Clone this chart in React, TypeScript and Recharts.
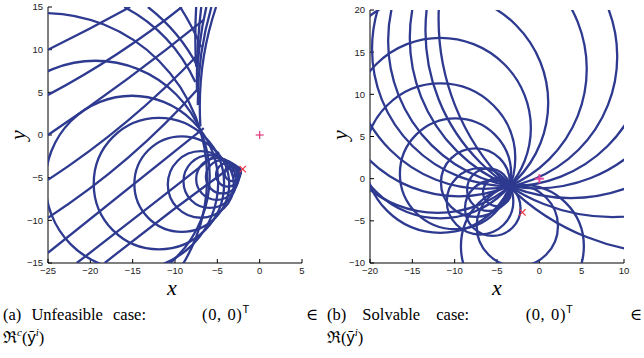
import React from 'react';
import { ScatterChart, Scatter, XAxis, YAxis } from 'recharts';

const LINE = '#2e3a90';

// (a) nested closed circles near the cusp: centre x, centre y, radius
const loopAX = [-2.75, -3.2, -3.75, -4.4, -5.05, -5.9, -6.95, -9.2, -11.9, -15.1, -19.4, -25.5];
const loopAY = [-4.3, -4.45, -4.65, -4.9, -5.15, -5.45, -5.8, -5.75, -5.7, -5.6, -4.8, -5.0];
const loopAR = [0.55, 0.95, 1.4, 1.95, 2.45, 3.1, 3.9, 5.6, 7.7, 10.2, 13.5, 19.3];

// (a) open arcs: start point, a point on the way, end point
const arcAStart = [[-25, 10.0], [-25, 4.7], [-25, 0.0], [-25, -5.25], [-25, -9.7], [-25, -13.8], [-21.6, -15], [-18.3, -15], [-13.2, 15], [-9.4, 15], [-7.4, 6.0], [-7.3, 3.5], [-7.0, 1.0], [-16.0, 15], [-7.5, 8.0], [-7.4, 5.0]];
const arcAMid = [[-20, 12.5], [-17.6, 9.0], [-13.7, 8.0], [-13, 3.9], [-13, -0.4], [-13, -4.3], [-12, -7.6], [-10, -8.6], [-10.2, 12.2], [-8.0, 12.6], [-7.1, 10.5], [-6.9, 9.5], [-6.7, 8.5], [-12.0, 12.2], [-7.6, 11.5], [-7.3, 10.5]];
const arcAEnd = [[-15.3, 15], [-9.2, 15], [-6.6, 13.5], [-7.2, 9.5], [-7.2, 5.5], [-6.6, 0.8], [-4.8, -2.0], [-3.2, -3.6], [-7.3, 8.0], [-6.9, 10.3], [-6.3, 15], [-5.7, 15], [-5.15, 15], [-7.6, 6.2], [-7.5, 15], [-6.9, 15]];

// (b) circles through the common point: centre x, centre y, radius
const circBX = [15.9, 8.65, 3.7, -0.36, -3.46, -6.5, -9.5, -12.0, -11.7, -11.7, -9.9, -7.55, -6.0, -5.0, -7.0, -5.5, -2.0, -2.6];
const circBY = [18.9, 17.55, 16.7, 16.35, 15.4, 14.5, 13.0, 9.0, 6.0, 2.44, 0.58, -0.47, -1.3, -1.6, -2.69, -3.5, -8.0, -5.63];
const circBR = [27.8, 22.1, 19.0, 17.5, 16.3, 15.7, 15.1, 13.05, 10.7, 8.86, 6.57, 4.07, 2.53, 1.65, 3.93, 3.28, 7.26, 4.8];

const xTicksA = [-25, -20, -15, -10, -5, 0, 5];
const yTicksA = [-15, -10, -5, 0, 5, 10, 15];
const xTicksB = [-20, -15, -10, -5, 0, 5, 10];
const yTicksB = [-10, -5, 0, 5, 10, 15, 20];

const origin = [{ x: 0, y: 0 }];
const target = [{ x: -2, y: -4 }];

type Pt = { x: number; y: number };
const getPts = (p: any): Pt[] => (p.points || []).map((q: any) => ({ x: q.x ?? q.cx, y: q.y ?? q.cy }));

const Empty = () => <g />;

function LoopLine(p: any) {
  const [c, a, b] = getPts(p);
  if (!c || !a || !b) return <g />;
  return (
    <ellipse cx={c.x} cy={c.y} rx={Math.abs(a.x - c.x)} ry={Math.abs(c.y - b.y)}
      fill="none" stroke={LINE} strokeWidth={2.3} />
  );
}

// circular arc from the first point, through the second, to the third
function ArcLine(p: any) {
  const [a, m, b] = getPts(p);
  if (!a || !m || !b) return <g />;
  const d = 2 * (a.x * (m.y - b.y) + m.x * (b.y - a.y) + b.x * (a.y - m.y));
  if (Math.abs(d) < 1e-6) {
    return <path d={`M${a.x},${a.y}L${b.x},${b.y}`} fill="none" stroke={LINE} strokeWidth={2.3} />;
  }
  const a2 = a.x * a.x + a.y * a.y;
  const m2 = m.x * m.x + m.y * m.y;
  const b2 = b.x * b.x + b.y * b.y;
  const ux = (a2 * (m.y - b.y) + m2 * (b.y - a.y) + b2 * (a.y - m.y)) / d;
  const uy = (a2 * (b.x - m.x) + m2 * (a.x - b.x) + b2 * (m.x - a.x)) / d;
  const r = Math.hypot(a.x - ux, a.y - uy);
  const tau = Math.PI * 2;
  const ang = (q: Pt) => Math.atan2(q.y - uy, q.x - ux);
  const norm = (v: number) => ((v % tau) + tau) % tau;
  const dm = norm(ang(m) - ang(a));
  const db = norm(ang(b) - ang(a));
  const sweep = dm < db ? 1 : 0;
  const span = sweep ? db : tau - db;
  const large = span > Math.PI ? 1 : 0;
  return (
    <path d={`M${a.x},${a.y}A${r},${r} 0 ${large} ${sweep} ${b.x},${b.y}`}
      fill="none" stroke={LINE} strokeWidth={2.3} />
  );
}

const plusMark = (color: string, w: number, s: number) => (p: any) => {
  const { cx, cy } = p;
  return (
    <g stroke={color} strokeWidth={w}>
      <line x1={cx - s} y1={cy} x2={cx + s} y2={cy} />
      <line x1={cx} y1={cy - s} x2={cx} y2={cy + s} />
    </g>
  );
};

function CrossMark(p: any) {
  const { cx, cy } = p;
  return (
    <g stroke="#ea3040" strokeWidth={1.2}>
      <line x1={cx - 3.2} y1={cy - 3.2} x2={cx + 3.2} y2={cy + 3.2} />
      <line x1={cx - 3.2} y1={cy + 3.2} x2={cx + 3.2} y2={cy - 3.2} />
    </g>
  );
}

const minus = (v: number) => String(v).replace('-', '\u2212');
const tickStyle = { fontSize: 9.5, fontFamily: '"Liberation Sans", Arial, sans-serif', fill: '#222' };

function Panel({ xDomain, yDomain, xTicks, yTicks, top, children }: any) {
  return (
    <ScatterChart width={322} height={300} margin={{ top, right: 20, bottom: 17, left: 18 }}>
      <XAxis type="number" dataKey="x" domain={xDomain} ticks={xTicks} allowDataOverflow
        height={20} tickSize={-4} tickMargin={8} tick={tickStyle} tickFormatter={minus}
        axisLine={{ stroke: '#000' }} tickLine={{ stroke: '#000' }} interval={0} />
      <YAxis type="number" dataKey="y" domain={yDomain} ticks={yTicks} allowDataOverflow
        width={30} tickSize={-4} tickMargin={9} tick={tickStyle} tickFormatter={minus}
        axisLine={{ stroke: '#000' }} tickLine={{ stroke: '#000' }} interval={0} />
      {children}
    </ScatterChart>
  );
}

const loopSeries = (xs: number[], ys: number[], rs: number[], tag: string) =>
  xs.map((cx, i) => (
    <Scatter key={tag + i} data={[{ x: cx, y: ys[i] }, { x: cx + rs[i], y: ys[i] }, { x: cx, y: ys[i] + rs[i] }]}
      line={LoopLine} shape={Empty} isAnimationActive={false} />
  ));

const arcSeries = (s: number[][], m: number[][], e: number[][], tag: string) =>
  s.map((p, i) => (
    <Scatter key={tag + i} data={[{ x: p[0], y: p[1] }, { x: m[i][0], y: m[i][1] }, { x: e[i][0], y: e[i][1] }]}
      line={ArcLine} shape={Empty} isAnimationActive={false} />
  ));

const serif = '"Liberation Serif", "DejaVu Serif", "Times New Roman", serif';
const sans = '"Liberation Sans", Arial, sans-serif';
const axisLabel: React.CSSProperties = { position: 'absolute', fontFamily: serif, fontStyle: 'italic', fontSize: 22, lineHeight: '14px' };
const capStyle: React.CSSProperties = { position: 'absolute', top: 304, width: 315, fontFamily: serif, fontSize: 16.5, lineHeight: '21px', color: '#000', whiteSpace: 'nowrap' };
const sup: React.CSSProperties = { fontSize: 11, position: 'relative', top: -7, verticalAlign: 'baseline' };
const math: React.CSSProperties = { letterSpacing: 0.6, wordSpacing: 1 };

export default function App() {
  return (
    <div style={{ position: 'absolute', left: 0, top: 0, width: 644, height: 358, background: '#fff', overflow: 'hidden' }}>
      <div style={{ position: 'absolute', left: 0, top: 0 }}>
        <Panel xDomain={[-25, 5]} yDomain={[-15, 15]} xTicks={xTicksA} yTicks={yTicksA} top={7}>
          {loopSeries(loopAX, loopAY, loopAR, 'la')}
          {arcSeries(arcAStart, arcAMid, arcAEnd, 'aa')}
          <Scatter data={origin} shape={plusMark('#dc3a7e', 1.2, 4)} isAnimationActive={false} />
          <Scatter data={target} shape={CrossMark} isAnimationActive={false} />
        </Panel>
      </div>
      <div style={{ position: 'absolute', left: 322, top: 0 }}>
        <Panel xDomain={[-20, 10]} yDomain={[-10, 20]} xTicks={xTicksB} yTicks={yTicksB} top={10}>
          {loopSeries(circBX, circBY, circBR, 'cb')}
          <Scatter data={origin} shape={plusMark('#e6479c', 2, 4.5)} isAnimationActive={false} />
          <Scatter data={target} shape={CrossMark} isAnimationActive={false} />
        </Panel>
      </div>

      <div style={{ ...axisLabel, left: 167, top: 281 }}>x</div>
      <div style={{ ...axisLabel, left: 492, top: 281 }}>x</div>
      <div style={{ ...axisLabel, left: 13, top: 128, transform: 'rotate(-90deg)' }}>y</div>
      <div style={{ ...axisLabel, left: 335, top: 128, transform: 'rotate(-90deg)' }}>y</div>

      <div style={{ ...capStyle, left: 3 }}>
        <div style={{ display: 'flex', justifyContent: 'space-between' }}>
          <span style={{ wordSpacing: 6 }}>(a) Unfeasible case:</span>
          <span style={math}>(0, 0)<span style={{ ...sup, fontFamily: sans }}>T</span></span>
          <span>∈</span>
        </div>
        <div>ℜ<span style={{ ...sup, fontStyle: 'italic' }}>c</span>(<span style={{ fontFamily: sans }}>ȳ</span><span style={{ ...sup, fontStyle: 'italic' }}>i</span>)</div>
      </div>
      <div style={{ ...capStyle, left: 327 }}>
        <div style={{ display: 'flex', justifyContent: 'space-between' }}>
          <span style={{ wordSpacing: 12 }}>(b) Solvable case:</span>
          <span style={math}>(0, 0)<span style={{ ...sup, fontFamily: sans }}>T</span></span>
          <span>∈</span>
        </div>
        <div>ℜ(<span style={{ fontFamily: sans }}>ȳ</span><span style={{ ...sup, fontStyle: 'italic' }}>i</span>)</div>
      </div>
    </div>
  );
}
